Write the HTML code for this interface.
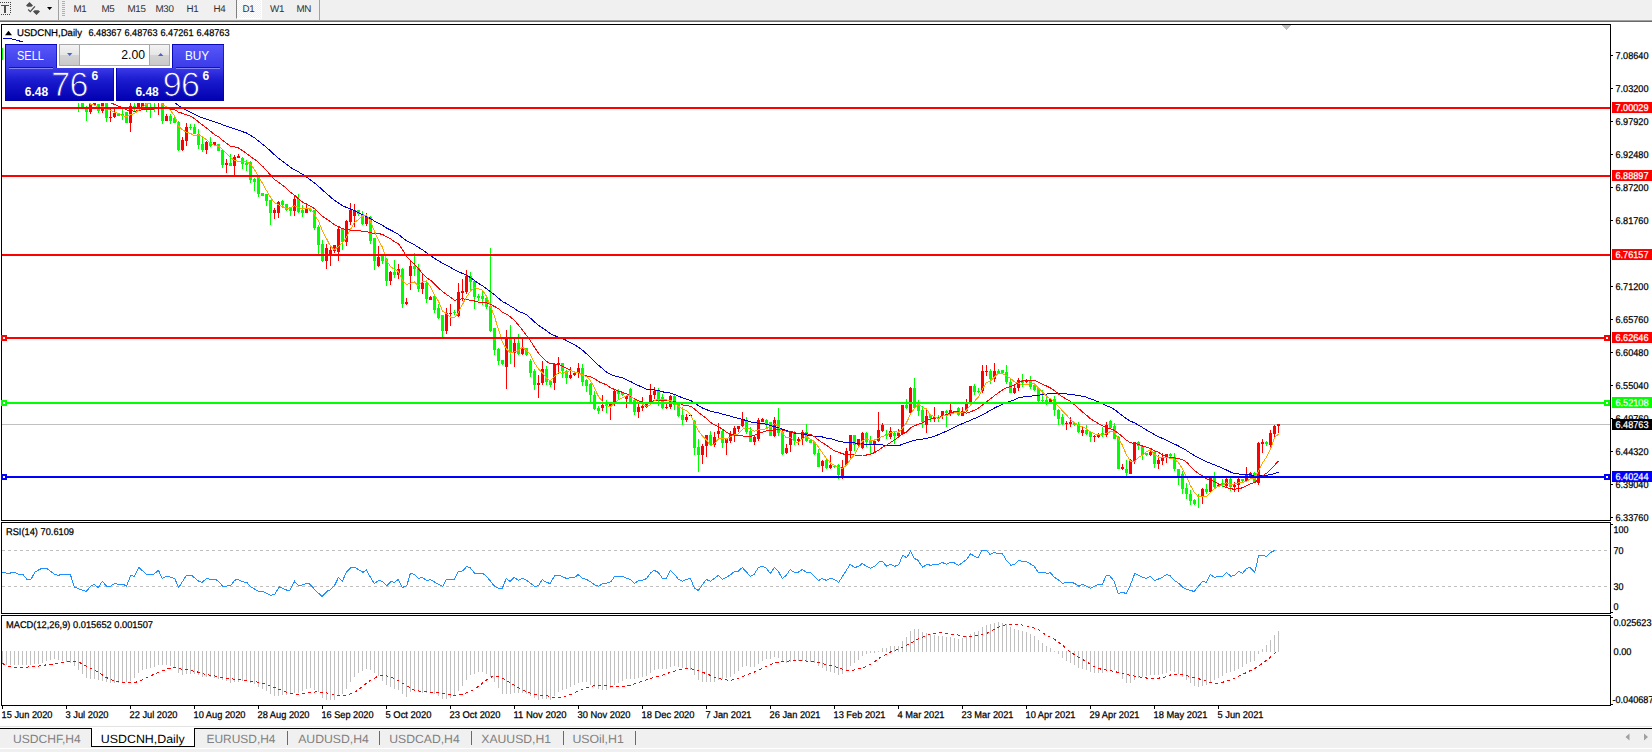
<!DOCTYPE html>
<html lang="en">
<head>
<meta charset="utf-8">
<title>USDCNH,Daily</title>
<style>
html,body{margin:0;padding:0;background:#fff;}
body{width:1652px;height:752px;overflow:hidden;position:relative;font-family:"Liberation Sans", Arial, sans-serif;}
.abs{position:absolute;}
#toolbar{left:0;top:0;width:1652px;height:20px;background:#f0f0f0;}
#edge1{left:0;top:20px;width:1652px;height:1px;background:#a0a0a0;}
#edge2{left:0;top:21px;width:1652px;height:1px;background:#696969;}
.tf{position:absolute;top:4.2px;font-size:9.8px;line-height:11px;color:#303030;white-space:nowrap;text-rendering:geometricPrecision;letter-spacing:-0.3px;}
.vsep{position:absolute;top:0;width:1px;height:20px;background:#a0a0a0;}
.vsepw{position:absolute;top:0;width:1px;height:20px;background:#fff;}
#d1btn{left:236px;top:0;width:24px;height:18px;border-left:1px solid #808080;
  background-color:#f0f0f0;
  background-image:linear-gradient(45deg,#fff 25%,transparent 25%,transparent 75%,#fff 75%),linear-gradient(45deg,#fff 25%,transparent 25%,transparent 75%,#fff 75%);
  background-size:2px 2px;background-position:0 0,1px 1px;border-bottom:1px solid #fff;border-right:1px solid #fff;}
svg text{font-family:"Liberation Sans", Arial, sans-serif;text-rendering:geometricPrecision;}
#chart{left:0;top:0;}
/* one click trading panel */
.blue{background:linear-gradient(#5555fa 0%,#2d2de0 40%,#0a0ab8 100%);}
#sell{left:5px;top:44px;width:52px;height:24px;background:linear-gradient(#5858fb,#3a3ae8);box-shadow:inset 1px 1px 0 rgba(0,0,175,.9),inset -1px 0 0 rgba(0,0,160,.6);}
#buy{left:172px;top:44px;width:52px;height:24px;background:linear-gradient(#5858fb,#3a3ae8);box-shadow:inset 1px 1px 0 rgba(0,0,175,.9),inset -1px 0 0 rgba(0,0,160,.6);}
#bid{left:5px;top:68px;width:109px;height:33px;background:linear-gradient(#3a3ae8 0%,#1c1cd0 35%,#0000b0 100%);box-shadow:inset 1px 0 0 rgba(0,0,175,.9),inset -1px -1px 0 rgba(0,0,160,.6);}
#ask{left:116px;top:68px;width:108px;height:33px;background:linear-gradient(#3a3ae8 0%,#1c1cd0 35%,#0000b0 100%);box-shadow:inset 1px 0 0 rgba(0,0,175,.9),inset -1px -1px 0 rgba(0,0,160,.6);}
.btxt{position:absolute;color:#fff;font-size:12px;line-height:12px;white-space:nowrap;transform-origin:0 0;}
.small{position:absolute;color:#fff;font-size:12px;font-weight:bold;line-height:12px;white-space:nowrap;}
.big{position:absolute;color:#fff;font-size:34px;line-height:34px;white-space:nowrap;letter-spacing:-0.6px;}
.uline{position:absolute;height:1px;background:#8484f4;}
.bigsvg{position:absolute;left:0;top:0;}
.dline{position:absolute;top:23px;height:1px;background:#1010c4;}
#lotbg{left:3px;top:42px;width:223px;height:61px;background:#fff;}
#lot{left:59px;top:44px;width:109px;height:20px;border:1px solid #a8a8a8;background:#fff;box-sizing:content-box;}
.spin{position:absolute;top:0;width:20px;height:20px;background:linear-gradient(#f3f3f3 0%,#e6e6e6 48%,#d3d3d3 52%,#c9c9c9 100%);box-sizing:border-box;}
#lotval{position:absolute;right:24px;top:4px;font-size:12.2px;line-height:13px;color:#000;}
/* tabs */
#tabs{left:0;top:726px;width:1652px;height:26px;}
#tabline0{left:0;top:726px;width:1652px;height:1px;background:#e3e3e3;}
#tabbar{left:0;top:729px;width:1652px;height:19px;background:#f0f0f0;}
#tabbot{left:0;top:749px;width:1652px;height:3px;background:#f0f0f0;}
#tabtopl{left:0;top:728px;width:92px;height:1px;background:#000;}
#tabtopr{left:194px;top:728px;width:1458px;height:1px;background:#000;}
#active{left:91px;top:728px;width:102px;height:18px;background:#fff;border:1px solid #000;border-top:none;}
#activetop{left:92px;top:727px;width:102px;height:1px;background:#fff;}
.tab{position:absolute;top:733px;font-size:11.6px;line-height:12px;color:#808080;white-space:nowrap;}
.tsep{position:absolute;top:731px;width:1px;height:14px;background:#6a6a6a;}
</style>
</head>
<body>
<div id="toolbar" class="abs">
  <svg class="abs" style="left:0;top:0" width="70" height="20" viewBox="0 0 70 20">
    <path d="M0 2h1v1h-1zM2 2h1v1h-1zM4 2h1v1h-1zM6 2h1v1h-1zM8 2h1v1h-1zM10 2h1v1h-1zM10 4h1v1h-1zM10 6h1v1h-1zM10 8h1v1h-1zM10 10h1v1h-1zM10 12h1v1h-1zM1 14h1v1h-1zM3 14h1v1h-1zM5 14h1v1h-1zM7 14h1v1h-1zM9 14h1v1h-1z" fill="#404040" shape-rendering="crispEdges"/>
    <path d="M1 5h8v1h-8z M4 5h2v8h-2z" fill="#4d4d4d" shape-rendering="crispEdges"/>
    <path d="M29.5 2l3.5 3.5l-1.6 1.3h-3.8l-1.6-1.3z M36.5 15l3.5-3.5l-1.6-1.3h-3.8l-1.6 1.3z" fill="#4d4d4d"/>
    <path d="M28.2 9.5l2.1 2.1l4.6-5.2" stroke="#4d4d4d" stroke-width="1.3" fill="none"/>
    <path d="M47 7h5.2l-2.6 3z" fill="#000"/>
    <path d="M62 1.5h3M62 3.5h3M62 5.5h3M62 7.5h3M62 9.5h3M62 11.5h3M62 13.5h3M62 15.5h3" stroke="#b0b0b0" stroke-width="1" shape-rendering="crispEdges"/>
  </svg>
  <div class="vsep" style="left:58px"></div>
  <div class="vsep" style="left:319px"></div>
  <div id="d1btn" class="abs"></div>
  <span class="tf" style="left:73.5px">M1</span>
  <span class="tf" style="left:101.5px">M5</span>
  <span class="tf" style="left:127.5px">M15</span>
  <span class="tf" style="left:155.5px">M30</span>
  <span class="tf" style="left:186.5px">H1</span>
  <span class="tf" style="left:213.5px">H4</span>
  <span class="tf" style="left:242.5px">D1</span>
  <span class="tf" style="left:270px">W1</span>
  <span class="tf" style="left:296.5px">MN</span>
</div>
<div id="edge1" class="abs"></div>
<div id="edge2" class="abs"></div>

<!-- tabs -->
<div id="tabline0" class="abs"></div>
<div id="tabbar" class="abs"></div>
<div id="tabbot" class="abs"></div>
<div id="tabtopl" class="abs"></div>
<div id="tabtopr" class="abs"></div>
<div id="active" class="abs"></div>
<div class="tsep" style="left:287px"></div>
<div class="tsep" style="left:379px"></div>
<div class="tsep" style="left:471px"></div>
<div class="tsep" style="left:563px"></div>
<div class="tsep" style="left:635px"></div>

<svg id="chart" class="abs" width="1652" height="752" viewBox="0 0 1652 752">
<g shape-rendering="crispEdges">
<path d="M1.5 520.5V24.5H1610.5V520.5Z" fill="none" stroke="#000" stroke-width="1"/>
<path d="M1.5 613.5V522.5H1610.5V613.5Z" fill="none" stroke="#000" stroke-width="1"/>
<path d="M1.5 705.5V615.5H1610.5V705.5Z" fill="none" stroke="#000" stroke-width="1"/>
</g>
<g shape-rendering="crispEdges">
<clipPath id="cm"><rect x="2" y="25" width="1608" height="495"/></clipPath>
<g clip-path="url(#cm)">
<rect x="2" y="424" width="1608" height="1" fill="#c0c0c0"/>
<path d="M2.5 48V60M6.5 50V56M10.5 50V57M14.5 54V62M18.5 57V65M22.5 60V68M26.5 61V73M34.5 66V72M38.5 69V81M42.5 76V82M50.5 74V86M54.5 81V88M58.5 82V92M62.5 87V95M66.5 88V98M74.5 89V98M78.5 96V112M82.5 103V107M86.5 106V121M98.5 104V113M106.5 103V122M118.5 114V116M122.5 109V120M126.5 112V123M134.5 103V112M146.5 103V112M150.5 96V118M154.5 95V112M162.5 103V124M170.5 114V124M174.5 116V123M178.5 121V151M190.5 124V130M194.5 124V134M198.5 129V149M202.5 137V152M210.5 137V147M218.5 144V151M222.5 150V168M230.5 154V166M242.5 157V169M246.5 160V171M250.5 161V183M254.5 178V191M258.5 175V197M262.5 193V196M266.5 194V206M270.5 200V225M282.5 200V208M286.5 204V211M290.5 207V216M298.5 194V213M302.5 205V217M310.5 209V212M314.5 210V230M318.5 225V254M322.5 240V262M342.5 228V250M358.5 210V216M362.5 211V225M370.5 216V244M374.5 238V270M382.5 256V264M386.5 258V286M394.5 260V278M402.5 268V308M414.5 253V276M418.5 264V292M426.5 282V303M434.5 294V313M438.5 304V319M442.5 315V337M454.5 310V315M470.5 272V292M474.5 281V309M478.5 294V301M482.5 291V305M486.5 298V309M490.5 248V332M494.5 328V355M498.5 348V365M502.5 360V365M510.5 325V364M518.5 334V355M526.5 348V356M530.5 359V377M534.5 369V390M546.5 366V385M550.5 380V387M562.5 363V378M566.5 370V384M582.5 364V386M586.5 379V392M590.5 383V402M594.5 391V410M598.5 406V414M606.5 400V413M618.5 389V399M622.5 393V396M630.5 388V402M634.5 399V415M658.5 388V406M662.5 394V409M674.5 395V410M678.5 404V417M682.5 407V425M694.5 420V455M698.5 439V472M710.5 431V446M722.5 430V448M746.5 417V434M750.5 427V442M766.5 419V428M770.5 422V436M778.5 408V436M782.5 431V455M794.5 431V445M806.5 424V442M810.5 439V443M814.5 441V455M818.5 449V467M826.5 459V469M834.5 465V468M838.5 464V479M854.5 435V451M866.5 432V447M870.5 436V454M886.5 430V439M894.5 431V444M906.5 399V409M914.5 378V409M918.5 400V416M922.5 406V428M930.5 415V422M938.5 415V422M946.5 410V427M958.5 407V416M974.5 384V395M978.5 388V393M990.5 369V384M998.5 369V374M1002.5 370V373M1006.5 365V384M1010.5 378V393M1022.5 374V387M1030.5 376V389M1034.5 384V391M1038.5 388V402M1042.5 390V402M1046.5 395V405M1054.5 396V416M1058.5 409V425M1062.5 414V425M1074.5 422V426M1078.5 422V433M1086.5 425V435M1090.5 432V442M1102.5 427V437M1110.5 420V429M1114.5 423V439M1118.5 436V469M1126.5 460V476M1138.5 441V450M1142.5 446V460M1146.5 453V456M1154.5 451V468M1170.5 453V457M1174.5 453V471M1178.5 469V485M1182.5 471V494M1186.5 483V499M1190.5 490V505M1194.5 499V505M1198.5 494V508M1206.5 484V494M1214.5 472V488M1222.5 479V487M1230.5 478V491M1242.5 479V482M1254.5 472V483M1266.5 441V446" stroke="#00ff00" stroke-width="1" fill="none"/>
<path d="M1 48h3v12h-3zM5 53h3v1h-3zM9 53h3v3h-3zM13 56h3v5h-3zM17 61h3v2h-3zM21 63h3v1h-3zM25 64h3v5h-3zM33 67h3v3h-3zM37 70h3v8h-3zM41 78h3v1h-3zM49 77h3v7h-3zM53 84h3v2h-3zM57 86h3v4h-3zM61 90h3v1h-3zM65 90h3v4h-3zM73 92h3v5h-3zM77 97h3v3h-3zM81 103h3v4h-3zM85 109h3v3h-3zM97 104h3v7h-3zM105 103h3v15h-3zM117 114h3v2h-3zM121 114h3v1h-3zM125 112h3v11h-3zM133 106h3v3h-3zM145 103h3v4h-3zM149 97h3v3h-3zM153 96h3v3h-3zM161 103h3v18h-3zM169 116h3v5h-3zM173 118h3v5h-3zM177 122h3v28h-3zM189 127h3v1h-3zM193 127h3v7h-3zM197 134h3v11h-3zM201 144h3v6h-3zM209 142h3v4h-3zM217 144h3v7h-3zM221 150h3v15h-3zM229 163h3v3h-3zM241 158h3v6h-3zM245 163h3v2h-3zM249 162h3v18h-3zM253 179h3v3h-3zM257 177h3v17h-3zM261 193h3v3h-3zM265 194h3v7h-3zM269 200h3v13h-3zM281 201h3v4h-3zM285 204h3v6h-3zM289 207h3v4h-3zM297 199h3v13h-3zM301 210h3v3h-3zM309 209h3v2h-3zM313 210h3v18h-3zM317 227h3v18h-3zM321 244h3v17h-3zM341 229h3v13h-3zM357 210h3v4h-3zM361 214h3v10h-3zM369 217h3v24h-3zM373 238h3v23h-3zM381 256h3v5h-3zM385 259h3v22h-3zM393 272h3v3h-3zM401 269h3v35h-3zM413 266h3v3h-3zM417 268h3v21h-3zM425 283h3v16h-3zM433 296h3v14h-3zM437 308h3v10h-3zM441 315h3v16h-3zM453 312h3v1h-3zM469 276h3v6h-3zM473 281h3v16h-3zM477 296h3v2h-3zM481 296h3v3h-3zM485 298h3v9h-3zM489 306h3v25h-3zM493 328h3v22h-3zM497 349h3v12h-3zM501 360h3v4h-3zM509 339h3v14h-3zM517 343h3v11h-3zM525 348h3v7h-3zM529 361h3v12h-3zM533 371h3v14h-3zM545 369h3v13h-3zM549 381h3v4h-3zM561 363h3v8h-3zM565 371h3v7h-3zM581 368h3v14h-3zM585 380h3v6h-3zM589 384h3v11h-3zM593 395h3v14h-3zM597 408h3v3h-3zM605 404h3v2h-3zM617 391h3v3h-3zM621 393h3v2h-3zM629 389h3v13h-3zM633 400h3v12h-3zM657 390h3v9h-3zM661 397h3v11h-3zM673 396h3v9h-3zM677 404h3v12h-3zM681 415h3v5h-3zM693 421h3v27h-3zM697 447h3v8h-3zM709 435h3v10h-3zM721 431h3v12h-3zM745 420h3v12h-3zM749 431h3v11h-3zM765 420h3v4h-3zM769 422h3v14h-3zM777 420h3v13h-3zM781 432h3v22h-3zM793 432h3v9h-3zM805 432h3v9h-3zM809 440h3v3h-3zM813 442h3v12h-3zM817 453h3v14h-3zM825 460h3v8h-3zM833 466h3v1h-3zM837 465h3v10h-3zM853 435h3v10h-3zM865 433h3v9h-3zM869 440h3v5h-3zM885 434h3v2h-3zM893 433h3v3h-3zM905 405h3v3h-3zM913 388h3v20h-3zM917 405h3v6h-3zM921 410h3v12h-3zM929 415h3v3h-3zM937 417h3v2h-3zM945 411h3v2h-3zM957 408h3v7h-3zM973 386h3v6h-3zM977 391h3v1h-3zM989 371h3v8h-3zM997 371h3v2h-3zM1001 370h3v3h-3zM1005 372h3v10h-3zM1009 382h3v11h-3zM1021 380h3v3h-3zM1029 380h3v7h-3zM1033 385h3v5h-3zM1037 388h3v13h-3zM1041 400h3v1h-3zM1045 400h3v2h-3zM1053 399h3v11h-3zM1057 410h3v9h-3zM1061 417h3v7h-3zM1073 423h3v2h-3zM1077 424h3v8h-3zM1085 430h3v4h-3zM1089 432h3v5h-3zM1101 433h3v2h-3zM1109 421h3v7h-3zM1113 426h3v13h-3zM1117 437h3v32h-3zM1125 469h3v4h-3zM1137 442h3v4h-3zM1141 446h3v9h-3zM1145 453h3v2h-3zM1153 452h3v12h-3zM1169 454h3v2h-3zM1173 457h3v12h-3zM1177 469h3v7h-3zM1181 474h3v15h-3zM1185 488h3v6h-3zM1189 494h3v7h-3zM1193 500h3v4h-3zM1197 496h3v1h-3zM1205 489h3v3h-3zM1213 478h3v9h-3zM1221 483h3v2h-3zM1229 479h3v8h-3zM1241 479h3v2h-3zM1253 473h3v10h-3zM1265 442h3v2h-3z" fill="#00ff00"/>
<path d="M30.5 63V71M46.5 76V81M70.5 89V97M90.5 104V114M94.5 103V105M102.5 103V113M110.5 109V122M114.5 109V118M130.5 103V132M138.5 98V109M142.5 98V109M158.5 96V115M166.5 114V121M182.5 137V151M186.5 123V146M206.5 141V154M214.5 142V146M226.5 159V173M234.5 155V176M238.5 154V158M274.5 208V219M278.5 201V218M294.5 196V216M306.5 203V213M326.5 244V269M330.5 245V266M334.5 245V253M338.5 227V261M346.5 220V246M350.5 203V225M354.5 204V227M366.5 213V226M378.5 246V267M390.5 271V285M398.5 264V279M406.5 298V305M410.5 260V290M422.5 274V294M430.5 296V300M446.5 308V334M450.5 304V326M458.5 283V317M462.5 279V301M466.5 270V294M506.5 330V389M514.5 339V367M522.5 339V355M538.5 375V398M542.5 361V385M554.5 363V390M558.5 357V374M570.5 367V379M574.5 372V376M578.5 363V378M602.5 395V411M610.5 403V420M614.5 389V406M626.5 395V408M638.5 404V418M642.5 397V411M646.5 404V408M650.5 384V405M654.5 387V399M666.5 404V409M670.5 395V409M686.5 414V422M702.5 444V464M706.5 435V457M714.5 432V447M718.5 423V438M726.5 439V455M730.5 431V443M734.5 426V442M738.5 426V432M742.5 412V427M754.5 436V445M758.5 418V441M762.5 418V422M774.5 417V437M786.5 444V454M790.5 432V452M798.5 437V445M802.5 430V445M822.5 460V472M830.5 455V469M842.5 460V479M846.5 448V466M850.5 435V459M858.5 439V447M862.5 432V449M874.5 440V452M878.5 412V442M882.5 423V432M890.5 427V439M898.5 429V437M902.5 405V434M910.5 387V414M926.5 410V433M934.5 407V422M942.5 411V419M950.5 404V416M954.5 411V413M962.5 407V416M966.5 399V412M970.5 386V403M982.5 365V393M986.5 365V376M994.5 363V382M1014.5 384V394M1018.5 378V391M1026.5 379V383M1050.5 399V402M1066.5 421V430M1070.5 417V427M1082.5 426V436M1094.5 435V442M1098.5 433V438M1106.5 422V437M1122.5 464V470M1130.5 459V474M1134.5 442V464M1150.5 449V456M1158.5 455V469M1162.5 453V465M1166.5 454V463M1202.5 488V504M1210.5 478V493M1218.5 484V487M1226.5 478V488M1234.5 482V492M1238.5 478V492M1246.5 467V481M1250.5 472V478M1258.5 442V485M1262.5 439V453M1270.5 430V448M1274.5 425V438M1278.5 424V433" stroke="#ff0000" stroke-width="1" fill="none"/>
<path d="M29 67h3v2h-3zM45 77h3v2h-3zM69 92h3v2h-3zM89 104h3v8h-3zM93 103h3v2h-3zM101 103h3v8h-3zM109 117h3v1h-3zM113 113h3v4h-3zM129 106h3v17h-3zM137 99h3v10h-3zM141 99h3v8h-3zM157 97h3v3h-3zM165 116h3v5h-3zM181 140h3v10h-3zM185 127h3v14h-3zM205 142h3v8h-3zM213 142h3v3h-3zM225 163h3v2h-3zM233 157h3v9h-3zM237 156h3v2h-3zM273 210h3v3h-3zM277 202h3v11h-3zM293 199h3v12h-3zM305 209h3v4h-3zM325 248h3v13h-3zM329 250h3v5h-3zM333 245h3v6h-3zM337 229h3v23h-3zM345 221h3v21h-3zM349 210h3v12h-3zM353 210h3v6h-3zM365 217h3v7h-3zM377 257h3v9h-3zM389 272h3v9h-3zM397 269h3v6h-3zM405 302h3v2h-3zM409 266h3v10h-3zM421 283h3v6h-3zM429 297h3v3h-3zM445 313h3v18h-3zM449 313h3v1h-3zM457 292h3v24h-3zM461 291h3v2h-3zM465 276h3v16h-3zM505 338h3v29h-3zM513 343h3v10h-3zM521 348h3v6h-3zM537 383h3v2h-3zM541 369h3v14h-3zM553 364h3v19h-3zM557 363h3v2h-3zM569 375h3v3h-3zM573 373h3v2h-3zM577 368h3v5h-3zM601 405h3v3h-3zM609 404h3v3h-3zM613 391h3v12h-3zM625 396h3v3h-3zM637 407h3v5h-3zM641 406h3v2h-3zM645 404h3v3h-3zM649 395h3v9h-3zM653 391h3v4h-3zM665 407h3v1h-3zM669 396h3v11h-3zM685 417h3v3h-3zM701 446h3v9h-3zM705 435h3v11h-3zM713 437h3v8h-3zM717 431h3v3h-3zM725 439h3v4h-3zM729 434h3v7h-3zM733 428h3v7h-3zM737 426h3v3h-3zM741 419h3v7h-3zM753 437h3v5h-3zM757 420h3v19h-3zM761 419h3v3h-3zM773 420h3v16h-3zM785 448h3v5h-3zM789 432h3v13h-3zM797 439h3v2h-3zM801 432h3v7h-3zM821 461h3v5h-3zM829 465h3v3h-3zM841 467h3v9h-3zM845 451h3v14h-3zM849 435h3v16h-3zM857 439h3v6h-3zM861 433h3v15h-3zM873 441h3v4h-3zM877 430h3v11h-3zM881 425h3v6h-3zM889 431h3v6h-3zM897 433h3v3h-3zM901 405h3v29h-3zM909 388h3v25h-3zM925 416h3v9h-3zM933 417h3v2h-3zM941 411h3v5h-3zM949 410h3v4h-3zM953 412h3v1h-3zM961 411h3v5h-3zM965 403h3v8h-3zM969 386h3v16h-3zM981 371h3v20h-3zM985 371h3v1h-3zM993 371h3v8h-3zM1013 388h3v5h-3zM1017 380h3v8h-3zM1025 380h3v2h-3zM1049 399h3v3h-3zM1065 423h3v1h-3zM1069 422h3v2h-3zM1081 430h3v3h-3zM1093 436h3v1h-3zM1097 435h3v2h-3zM1105 425h3v10h-3zM1121 467h3v2h-3zM1129 460h3v14h-3zM1133 442h3v20h-3zM1149 452h3v3h-3zM1157 460h3v4h-3zM1161 457h3v4h-3zM1165 454h3v4h-3zM1201 489h3v7h-3zM1209 478h3v14h-3zM1217 485h3v2h-3zM1225 479h3v7h-3zM1233 485h3v2h-3zM1237 479h3v6h-3zM1245 475h3v6h-3zM1249 473h3v3h-3zM1257 443h3v40h-3zM1261 442h3v2h-3zM1269 433h3v12h-3zM1273 426h3v8h-3zM1277 424h3v2h-3z" fill="#ff0000"/>
<path d="M689 415h3v1h-3z" fill="#000"/>
<polyline points="2.5,38.0 6.5,38.1 10.5,38.6 14.5,39.7 18.5,40.8 22.5,41.7" fill="none" stroke="#0000cd" stroke-width="1"/>
<polyline points="154.5,93.3 158.5,95.0 162.5,96.6 166.5,98.2 170.5,99.9 174.5,102.1 178.5,105.6 182.5,108.2 186.5,110.2 190.5,112.2 194.5,114.2 198.5,116.2 202.5,117.9 206.5,119.2 210.5,120.5 214.5,121.8 218.5,123.1 222.5,124.7 226.5,126.1 230.5,127.5 234.5,128.9 238.5,130.2 242.5,131.7 246.5,133.0 250.5,135.4 254.5,137.8 258.5,141.0 262.5,144.2 266.5,147.3 270.5,151.1 274.5,154.8 278.5,158.4 282.5,161.2 286.5,164.3 290.5,167.3 294.5,169.9 298.5,171.9 302.5,174.3 306.5,177.1 310.5,179.9 314.5,183.0 318.5,186.3 322.5,190.0 326.5,193.6 330.5,197.0 334.5,200.4 338.5,203.0 342.5,205.6 346.5,207.5 350.5,209.0 354.5,210.8 358.5,212.7 362.5,214.7 366.5,216.4 370.5,218.5 374.5,221.1 378.5,223.2 382.5,225.4 386.5,228.1 390.5,230.0 394.5,232.1 398.5,234.4 402.5,237.7 406.5,240.7 410.5,242.5 414.5,244.9 418.5,247.4 422.5,249.8 426.5,252.8 430.5,255.6 434.5,258.3 438.5,260.8 442.5,263.1 446.5,265.3 450.5,267.4 454.5,269.7 458.5,271.8 462.5,273.4 466.5,275.2 470.5,277.6 474.5,280.5 478.5,283.3 482.5,285.8 486.5,288.8 490.5,291.8 494.5,294.7 498.5,298.2 502.5,301.6 506.5,303.5 510.5,306.2 514.5,308.5 518.5,311.3 522.5,312.8 526.5,314.6 530.5,318.2 534.5,322.0 538.5,325.2 542.5,328.0 546.5,330.8 550.5,333.8 554.5,335.6 558.5,337.1 562.5,338.4 566.5,340.6 570.5,342.7 574.5,344.6 578.5,347.2 582.5,350.2 586.5,353.8 590.5,357.6 594.5,361.4 598.5,365.2 602.5,368.7 606.5,372.0 610.5,374.4 614.5,375.8 618.5,376.9 622.5,377.9 626.5,379.8 630.5,381.5 634.5,383.8 638.5,385.5 642.5,387.4 646.5,389.1 650.5,389.8 654.5,390.0 658.5,390.6 662.5,391.8 666.5,392.7 670.5,393.1 674.5,394.4 678.5,396.2 682.5,397.8 686.5,399.1 690.5,400.4 694.5,402.9 698.5,405.8 702.5,408.0 706.5,409.6 710.5,411.3 714.5,412.2 718.5,412.9 722.5,414.1 726.5,415.2 730.5,416.2 734.5,417.4 738.5,418.5 742.5,419.4 746.5,420.6 750.5,421.9 754.5,422.7 758.5,423.2 762.5,423.6 766.5,424.2 770.5,425.6 774.5,426.6 778.5,427.7 782.5,429.2 786.5,430.6 790.5,431.8 794.5,433.0 798.5,433.7 802.5,434.2 806.5,434.9 810.5,435.9 814.5,436.1 818.5,436.5 822.5,437.0 826.5,438.1 830.5,438.7 834.5,439.7 838.5,441.2 842.5,442.0 846.5,442.4 850.5,442.5 854.5,443.0 858.5,443.5 862.5,443.9 866.5,444.3 870.5,444.4 874.5,444.5 878.5,444.9 882.5,445.0 886.5,445.5 890.5,445.3 894.5,445.8 898.5,445.8 902.5,444.2 906.5,442.9 910.5,441.4 914.5,440.3 918.5,439.4 922.5,439.1 926.5,438.3 930.5,437.4 934.5,436.2 938.5,434.6 942.5,432.9 946.5,431.1 950.5,429.3 954.5,427.4 958.5,425.4 962.5,423.5 966.5,421.9 970.5,420.3 974.5,418.5 978.5,416.9 982.5,414.9 986.5,412.5 990.5,410.3 994.5,408.0 998.5,406.1 1002.5,404.4 1006.5,402.6 1010.5,401.3 1014.5,399.7 1018.5,397.9 1022.5,397.2 1026.5,396.2 1030.5,396.2 1034.5,395.6 1038.5,395.3 1042.5,394.6 1046.5,394.1 1050.5,393.5 1054.5,393.3 1058.5,393.3 1062.5,393.7 1066.5,394.0 1070.5,394.4 1074.5,394.9 1078.5,395.5 1082.5,396.2 1086.5,397.2 1090.5,398.9 1094.5,400.3 1098.5,401.8 1102.5,403.9 1106.5,405.7 1110.5,407.3 1114.5,409.5 1118.5,412.7 1122.5,415.8 1126.5,418.9 1130.5,421.1 1134.5,422.9 1138.5,425.1 1142.5,427.5 1146.5,430.0 1150.5,432.2 1154.5,434.7 1158.5,436.6 1162.5,438.5 1166.5,440.2 1170.5,442.1 1174.5,444.1 1178.5,446.0 1182.5,448.2 1186.5,450.5 1190.5,453.1 1194.5,455.7 1198.5,457.9 1202.5,459.9 1206.5,461.8 1210.5,463.2 1214.5,464.9 1218.5,466.5 1222.5,468.2 1226.5,470.0 1230.5,472.0 1234.5,473.5 1238.5,473.9 1242.5,474.4 1246.5,474.4 1250.5,474.9 1254.5,476.2 1258.5,476.1 1262.5,475.7 1266.5,475.3 1270.5,474.7 1274.5,473.4 1278.5,472.2" fill="none" stroke="#0000cd" stroke-width="1"/>
<polyline points="2.5,52.0 6.5,52.4 10.5,52.9 14.5,54.0 18.5,55.2 22.5,56.4 26.5,57.8 30.5,59.0 34.5,60.3 38.5,62.1 42.5,63.9 46.5,65.4 50.5,67.3 54.5,69.2 58.5,71.4 62.5,74.0 66.5,76.8 70.5,79.0 74.5,81.4 78.5,83.9 82.5,86.6 86.5,89.8 90.5,92.2 94.5,94.0 98.5,96.3 102.5,98.1 106.5,100.5 110.5,102.7 114.5,104.4 118.5,106.2 122.5,107.7 126.5,109.9 130.5,110.5 134.5,111.2 138.5,110.6 142.5,109.7 146.5,109.9 150.5,109.6 154.5,108.8 158.5,108.4 162.5,108.6 166.5,108.5 170.5,109.1 174.5,109.6 178.5,112.1 182.5,113.3 186.5,114.8 190.5,116.1 194.5,118.6 198.5,121.9 202.5,125.0 206.5,128.0 210.5,131.3 214.5,134.6 218.5,136.7 222.5,140.2 226.5,143.3 230.5,146.4 234.5,146.9 238.5,148.0 242.5,150.7 246.5,153.4 250.5,156.6 254.5,159.3 258.5,162.4 262.5,166.2 266.5,170.2 270.5,175.3 274.5,179.5 278.5,182.2 282.5,185.2 286.5,188.4 290.5,192.2 294.5,195.3 298.5,198.7 302.5,202.1 306.5,204.2 310.5,206.2 314.5,208.7 318.5,212.2 322.5,216.4 326.5,218.9 330.5,221.7 334.5,224.8 338.5,226.5 342.5,228.7 346.5,229.4 350.5,230.2 354.5,230.1 358.5,230.2 362.5,231.3 366.5,231.7 370.5,232.6 374.5,233.8 378.5,233.5 382.5,234.5 386.5,236.7 390.5,238.6 394.5,241.9 398.5,243.9 402.5,249.7 406.5,256.3 410.5,260.3 414.5,264.2 418.5,268.8 422.5,273.5 426.5,277.6 430.5,280.2 434.5,283.9 438.5,288.0 442.5,291.6 446.5,294.5 450.5,297.2 454.5,300.4 458.5,299.5 462.5,298.8 466.5,299.5 470.5,300.4 474.5,301.0 478.5,302.1 482.5,302.1 486.5,302.8 490.5,304.3 494.5,306.5 498.5,308.6 502.5,312.3 506.5,314.1 510.5,317.0 514.5,320.6 518.5,325.1 522.5,330.2 526.5,335.5 530.5,341.0 534.5,347.2 538.5,353.2 542.5,357.6 546.5,361.3 550.5,363.8 554.5,364.0 558.5,364.0 562.5,366.4 566.5,368.1 570.5,370.4 574.5,371.7 578.5,373.2 582.5,375.0 586.5,376.0 590.5,376.7 594.5,378.6 598.5,381.6 602.5,383.3 606.5,384.7 610.5,387.6 614.5,389.5 618.5,391.1 622.5,392.3 626.5,393.8 630.5,395.9 634.5,399.0 638.5,400.8 642.5,402.3 646.5,402.9 650.5,401.9 654.5,400.4 658.5,400.0 662.5,400.2 666.5,400.4 670.5,400.8 674.5,401.6 678.5,403.1 682.5,404.8 686.5,405.9 690.5,406.1 694.5,409.0 698.5,412.5 702.5,415.5 706.5,418.4 710.5,422.3 714.5,424.9 718.5,426.6 722.5,429.2 726.5,432.2 730.5,434.3 734.5,435.1 738.5,435.6 742.5,435.8 746.5,436.9 750.5,436.5 754.5,435.3 758.5,433.4 762.5,432.2 766.5,430.7 770.5,430.6 774.5,429.8 778.5,429.1 782.5,430.2 786.5,431.2 790.5,431.5 794.5,432.5 798.5,433.9 802.5,434.0 806.5,433.9 810.5,434.3 814.5,436.7 818.5,440.1 822.5,442.8 826.5,445.1 830.5,448.3 834.5,450.7 838.5,452.3 842.5,453.7 846.5,455.0 850.5,454.7 854.5,455.0 858.5,455.6 862.5,455.0 866.5,455.0 870.5,454.4 874.5,452.5 878.5,450.3 882.5,447.2 886.5,445.2 890.5,442.6 894.5,439.7 898.5,437.3 902.5,434.0 906.5,432.1 910.5,428.0 914.5,425.8 918.5,424.2 922.5,422.8 926.5,420.7 930.5,419.1 934.5,418.1 938.5,417.7 942.5,415.9 946.5,414.6 950.5,412.8 954.5,411.3 958.5,412.0 962.5,412.1 966.5,413.2 970.5,411.7 974.5,410.3 978.5,408.1 982.5,404.9 986.5,401.6 990.5,398.9 994.5,395.5 998.5,392.8 1002.5,389.9 1006.5,387.9 1010.5,386.6 1014.5,384.7 1018.5,382.5 1022.5,381.0 1026.5,380.6 1030.5,380.2 1034.5,380.1 1038.5,382.2 1042.5,384.4 1046.5,386.0 1050.5,388.0 1054.5,390.7 1058.5,393.9 1062.5,396.9 1066.5,399.1 1070.5,401.5 1074.5,404.8 1078.5,408.3 1082.5,412.0 1086.5,415.3 1090.5,418.7 1094.5,421.2 1098.5,423.5 1102.5,425.8 1106.5,427.7 1110.5,428.9 1114.5,430.4 1118.5,433.5 1122.5,436.7 1126.5,440.3 1130.5,442.7 1134.5,443.4 1138.5,444.5 1142.5,446.0 1146.5,447.3 1150.5,448.5 1154.5,450.6 1158.5,452.4 1162.5,454.7 1166.5,456.6 1170.5,457.8 1174.5,457.9 1178.5,458.5 1182.5,459.7 1186.5,462.1 1190.5,466.3 1194.5,470.4 1198.5,473.5 1202.5,475.9 1206.5,478.8 1210.5,479.8 1214.5,481.7 1218.5,483.7 1222.5,485.8 1226.5,487.5 1230.5,488.7 1234.5,489.3 1238.5,488.7 1242.5,487.8 1246.5,485.9 1250.5,483.7 1254.5,482.7 1258.5,479.4 1262.5,475.8 1266.5,473.3 1270.5,469.5 1274.5,465.3 1278.5,461.0" fill="none" stroke="#ff0000" stroke-width="1"/>
<polyline points="2.5,63.0 6.5,63.3 10.5,57.1 14.5,57.8 18.5,58.7 22.5,59.6 26.5,62.6 30.5,65.0 34.5,66.9 38.5,69.9 42.5,72.9 46.5,74.4 50.5,77.8 54.5,80.9 58.5,83.2 62.5,85.6 66.5,89.0 70.5,90.5 74.5,92.7 78.5,94.7 82.5,97.9 86.5,101.5 90.5,104.0 94.5,105.3 98.5,107.4 102.5,106.7 106.5,107.9 110.5,110.4 114.5,112.3 118.5,113.3 122.5,115.7 126.5,116.7 130.5,114.5 134.5,113.6 138.5,110.3 142.5,107.1 146.5,103.9 150.5,102.7 154.5,100.8 158.5,100.4 162.5,104.8 166.5,106.6 170.5,110.7 174.5,115.5 178.5,126.1 182.5,129.8 186.5,132.1 190.5,133.5 194.5,135.7 198.5,134.8 202.5,136.7 206.5,139.7 210.5,143.4 214.5,145.1 218.5,146.3 222.5,149.3 226.5,153.6 230.5,157.5 234.5,160.4 238.5,161.4 242.5,161.3 246.5,161.7 250.5,164.4 254.5,169.5 258.5,177.0 262.5,183.3 266.5,190.5 270.5,197.3 274.5,202.9 278.5,204.6 282.5,206.6 286.5,208.4 290.5,207.9 294.5,205.6 298.5,207.5 302.5,208.9 306.5,208.7 310.5,208.7 314.5,214.5 318.5,221.1 322.5,230.8 326.5,238.6 330.5,246.3 334.5,249.7 338.5,246.5 342.5,242.7 346.5,237.4 350.5,229.4 354.5,222.4 358.5,219.5 362.5,215.9 366.5,215.0 370.5,221.2 374.5,231.4 378.5,240.0 382.5,247.5 386.5,260.3 390.5,266.5 394.5,269.3 398.5,271.6 402.5,280.2 406.5,284.4 410.5,283.2 414.5,281.9 418.5,285.8 422.5,281.6 426.5,280.9 430.5,287.1 434.5,295.3 438.5,301.2 442.5,310.9 446.5,313.7 450.5,317.0 454.5,317.7 458.5,312.4 462.5,304.4 466.5,297.1 470.5,290.9 474.5,287.6 478.5,288.7 482.5,290.1 486.5,296.3 490.5,306.1 494.5,316.7 498.5,329.4 502.5,342.5 506.5,348.8 510.5,353.2 514.5,351.8 518.5,350.4 522.5,347.2 526.5,350.7 530.5,354.7 534.5,363.1 538.5,368.9 542.5,373.0 546.5,378.3 550.5,380.7 554.5,376.5 558.5,372.7 562.5,373.2 566.5,372.4 570.5,370.3 574.5,372.0 578.5,372.9 582.5,375.0 586.5,376.6 590.5,380.8 594.5,388.0 598.5,396.6 602.5,401.3 606.5,405.3 610.5,407.0 614.5,403.3 618.5,399.8 622.5,397.8 626.5,395.8 630.5,395.3 634.5,399.5 638.5,402.1 642.5,404.4 646.5,406.1 650.5,404.7 654.5,400.5 658.5,399.1 662.5,399.4 666.5,400.0 670.5,400.3 674.5,403.1 678.5,406.4 682.5,408.8 686.5,410.7 690.5,414.6 694.5,423.1 698.5,430.8 702.5,436.1 706.5,439.8 710.5,445.7 714.5,443.6 718.5,438.9 722.5,438.2 726.5,439.0 730.5,436.7 734.5,434.9 738.5,433.9 742.5,429.3 746.5,427.7 750.5,429.3 754.5,431.2 758.5,429.9 762.5,429.8 766.5,428.3 770.5,427.1 774.5,423.7 778.5,426.3 782.5,433.3 786.5,438.0 790.5,437.3 794.5,441.4 798.5,442.7 802.5,438.4 806.5,437.0 810.5,439.1 814.5,441.7 818.5,447.2 822.5,453.0 826.5,458.4 830.5,462.9 834.5,465.5 838.5,467.3 842.5,468.5 846.5,465.2 850.5,459.2 854.5,454.7 858.5,447.5 862.5,440.7 866.5,438.8 870.5,440.9 874.5,440.0 878.5,438.2 882.5,436.5 886.5,435.4 890.5,432.5 894.5,431.6 898.5,432.2 902.5,428.3 906.5,422.7 910.5,414.0 914.5,408.4 918.5,404.0 922.5,407.5 926.5,409.0 930.5,415.1 934.5,416.8 938.5,418.3 942.5,416.1 946.5,415.5 950.5,413.9 954.5,412.9 958.5,412.2 962.5,412.1 966.5,410.1 970.5,405.2 974.5,401.3 978.5,396.8 982.5,388.8 986.5,382.4 990.5,381.1 994.5,376.9 998.5,373.1 1002.5,373.6 1006.5,375.8 1010.5,378.4 1014.5,381.8 1018.5,383.1 1022.5,385.1 1026.5,384.6 1030.5,383.5 1034.5,383.9 1038.5,388.2 1042.5,391.8 1046.5,396.3 1050.5,398.8 1054.5,402.8 1058.5,406.3 1062.5,411.0 1066.5,415.0 1070.5,419.6 1074.5,422.7 1078.5,425.5 1082.5,426.7 1086.5,428.9 1090.5,431.9 1094.5,433.9 1098.5,434.4 1102.5,435.2 1106.5,433.4 1110.5,431.5 1114.5,432.1 1118.5,439.0 1122.5,445.4 1126.5,455.0 1130.5,461.2 1134.5,462.0 1138.5,457.5 1142.5,455.1 1146.5,451.6 1150.5,450.0 1154.5,454.4 1158.5,457.1 1162.5,457.6 1166.5,457.5 1170.5,458.4 1174.5,459.4 1178.5,462.6 1182.5,468.9 1186.5,476.8 1190.5,485.7 1194.5,492.6 1198.5,496.9 1202.5,496.9 1206.5,496.6 1210.5,492.2 1214.5,488.7 1218.5,486.2 1222.5,485.4 1226.5,482.7 1230.5,484.4 1234.5,484.0 1238.5,482.9 1242.5,482.3 1246.5,481.3 1250.5,478.6 1254.5,478.2 1258.5,470.9 1262.5,463.0 1266.5,456.9 1270.5,449.0 1274.5,437.7 1278.5,433.9" fill="none" stroke="#ffa500" stroke-width="1"/>
<rect x="2" y="107" width="1608" height="2" fill="#ff0000"/>
<rect x="2" y="175" width="1608" height="2" fill="#ff0000"/>
<rect x="2" y="254" width="1608" height="2" fill="#ff0000"/>
<rect x="2" y="337" width="1608" height="2" fill="#ff0000"/>
<rect x="2" y="402" width="1608" height="2" fill="#00ff00"/>
<rect x="2" y="476" width="1608" height="2" fill="#0000ff"/>
</g>
<rect x="1" y="335" width="6" height="6" fill="#ff0000"/>
<rect x="3" y="337" width="2" height="2" fill="#fff"/>
<rect x="1604" y="335" width="6" height="6" fill="#ff0000"/>
<rect x="1606" y="337" width="2" height="2" fill="#fff"/>
<rect x="1" y="400" width="6" height="6" fill="#00ff00"/>
<rect x="3" y="402" width="2" height="2" fill="#fff"/>
<rect x="1604" y="400" width="6" height="6" fill="#00ff00"/>
<rect x="1606" y="402" width="2" height="2" fill="#fff"/>
<rect x="1" y="474" width="6" height="6" fill="#0000ff"/>
<rect x="3" y="476" width="2" height="2" fill="#fff"/>
<rect x="1604" y="474" width="6" height="6" fill="#0000ff"/>
<rect x="1606" y="476" width="2" height="2" fill="#fff"/>
<path d="M1281 25h10l-5 5z" fill="#c0c0c0"/>
</g>
<g shape-rendering="crispEdges">
<rect x="1611" y="55" width="2" height="1" fill="#000"/>
<rect x="1611" y="88" width="2" height="1" fill="#000"/>
<rect x="1611" y="121" width="2" height="1" fill="#000"/>
<rect x="1611" y="154" width="2" height="1" fill="#000"/>
<rect x="1611" y="187" width="2" height="1" fill="#000"/>
<rect x="1611" y="220" width="2" height="1" fill="#000"/>
<rect x="1611" y="286" width="2" height="1" fill="#000"/>
<rect x="1611" y="319" width="2" height="1" fill="#000"/>
<rect x="1611" y="352" width="2" height="1" fill="#000"/>
<rect x="1611" y="385" width="2" height="1" fill="#000"/>
<rect x="1611" y="418" width="2" height="1" fill="#000"/>
<rect x="1611" y="451" width="2" height="1" fill="#000"/>
<rect x="1611" y="484" width="2" height="1" fill="#000"/>
<rect x="1611" y="517" width="2" height="1" fill="#000"/>
</g>
<text x="1615.5" y="59" font-size="9.8" fill="#000" stroke="#000" stroke-width="0.25" textLength="33" lengthAdjust="spacingAndGlyphs">7.08640</text>
<text x="1615.5" y="92" font-size="9.8" fill="#000" stroke="#000" stroke-width="0.25" textLength="33" lengthAdjust="spacingAndGlyphs">7.03200</text>
<text x="1615.5" y="125" font-size="9.8" fill="#000" stroke="#000" stroke-width="0.25" textLength="33" lengthAdjust="spacingAndGlyphs">6.97920</text>
<text x="1615.5" y="158" font-size="9.8" fill="#000" stroke="#000" stroke-width="0.25" textLength="33" lengthAdjust="spacingAndGlyphs">6.92480</text>
<text x="1615.5" y="191" font-size="9.8" fill="#000" stroke="#000" stroke-width="0.25" textLength="33" lengthAdjust="spacingAndGlyphs">6.87200</text>
<text x="1615.5" y="224" font-size="9.8" fill="#000" stroke="#000" stroke-width="0.25" textLength="33" lengthAdjust="spacingAndGlyphs">6.81760</text>
<text x="1615.5" y="290" font-size="9.8" fill="#000" stroke="#000" stroke-width="0.25" textLength="33" lengthAdjust="spacingAndGlyphs">6.71200</text>
<text x="1615.5" y="323" font-size="9.8" fill="#000" stroke="#000" stroke-width="0.25" textLength="33" lengthAdjust="spacingAndGlyphs">6.65760</text>
<text x="1615.5" y="356" font-size="9.8" fill="#000" stroke="#000" stroke-width="0.25" textLength="33" lengthAdjust="spacingAndGlyphs">6.60480</text>
<text x="1615.5" y="389" font-size="9.8" fill="#000" stroke="#000" stroke-width="0.25" textLength="33" lengthAdjust="spacingAndGlyphs">6.55040</text>
<text x="1615.5" y="422" font-size="9.8" fill="#000" stroke="#000" stroke-width="0.25" textLength="33" lengthAdjust="spacingAndGlyphs">6.49760</text>
<text x="1615.5" y="455" font-size="9.8" fill="#000" stroke="#000" stroke-width="0.25" textLength="33" lengthAdjust="spacingAndGlyphs">6.44320</text>
<text x="1615.5" y="488" font-size="9.8" fill="#000" stroke="#000" stroke-width="0.25" textLength="33" lengthAdjust="spacingAndGlyphs">6.39040</text>
<text x="1615.5" y="521" font-size="9.8" fill="#000" stroke="#000" stroke-width="0.25" textLength="33" lengthAdjust="spacingAndGlyphs">6.33760</text>
<rect x="1612" y="102" width="40" height="11" fill="#ff0000" shape-rendering="crispEdges"/>
<text x="1615.5" y="111" font-size="9.8" fill="#fff" stroke="#fff" stroke-width="0.25" textLength="33" lengthAdjust="spacingAndGlyphs">7.00029</text>
<rect x="1612" y="170" width="40" height="11" fill="#ff0000" shape-rendering="crispEdges"/>
<text x="1615.5" y="179" font-size="9.8" fill="#fff" stroke="#fff" stroke-width="0.25" textLength="33" lengthAdjust="spacingAndGlyphs">6.88897</text>
<rect x="1612" y="249" width="40" height="11" fill="#ff0000" shape-rendering="crispEdges"/>
<text x="1615.5" y="258" font-size="9.8" fill="#fff" stroke="#fff" stroke-width="0.25" textLength="33" lengthAdjust="spacingAndGlyphs">6.76157</text>
<rect x="1612" y="332" width="40" height="11" fill="#ff0000" shape-rendering="crispEdges"/>
<text x="1615.5" y="341" font-size="9.8" fill="#fff" stroke="#fff" stroke-width="0.25" textLength="33" lengthAdjust="spacingAndGlyphs">6.62646</text>
<rect x="1612" y="397" width="40" height="11" fill="#00ff00" shape-rendering="crispEdges"/>
<text x="1615.5" y="406" font-size="9.8" fill="#fff" stroke="#fff" stroke-width="0.25" textLength="33" lengthAdjust="spacingAndGlyphs">6.52108</text>
<rect x="1612" y="419" width="40" height="11" fill="#000000" shape-rendering="crispEdges"/>
<text x="1615.5" y="428" font-size="9.8" fill="#fff" stroke="#fff" stroke-width="0.25" textLength="33" lengthAdjust="spacingAndGlyphs">6.48763</text>
<rect x="1612" y="471" width="40" height="11" fill="#0000ff" shape-rendering="crispEdges"/>
<text x="1615.5" y="480" font-size="9.8" fill="#fff" stroke="#fff" stroke-width="0.25" textLength="33" lengthAdjust="spacingAndGlyphs">6.40244</text>
<path d="M5 35.2l3.5-4.4l3.5 4.4z" fill="#000"/>
<text x="17" y="36" font-size="9.8" fill="#000" stroke="#000" stroke-width="0.25" textLength="65" lengthAdjust="spacingAndGlyphs">USDCNH,Daily</text>
<text x="88.5" y="36" font-size="9.8" fill="#000" stroke="#000" stroke-width="0.25" textLength="33" lengthAdjust="spacingAndGlyphs">6.48367</text>
<text x="124.5" y="36" font-size="9.8" fill="#000" stroke="#000" stroke-width="0.25" textLength="33" lengthAdjust="spacingAndGlyphs">6.48763</text>
<text x="160.5" y="36" font-size="9.8" fill="#000" stroke="#000" stroke-width="0.25" textLength="33" lengthAdjust="spacingAndGlyphs">6.47261</text>
<text x="196.5" y="36" font-size="9.8" fill="#000" stroke="#000" stroke-width="0.25" textLength="33" lengthAdjust="spacingAndGlyphs">6.48763</text>
<text x="6" y="535" font-size="9.8" fill="#000" stroke="#000" stroke-width="0.25" textLength="68" lengthAdjust="spacingAndGlyphs">RSI(14) 70.6109</text>
<g shape-rendering="crispEdges">
<path d="M2 550.5H1610M2 586.5H1610" stroke="#c0c0c0" stroke-width="1" stroke-dasharray="3 3" fill="none"/>
<rect x="1611" y="524" width="2" height="1" fill="#000"/>
<rect x="1611" y="612" width="2" height="1" fill="#000"/>
</g>
<polyline points="2.0,572.5 9.0,573.3 14.0,572.3 19.0,574.3 23.0,574.5 27.0,579.5 31.0,579.3 35.0,571.9 41.9,568.3 46.9,568.5 53.9,573.9 57.9,575.5 61.9,574.3 70.3,574.3 74.3,586.9 79.9,589.3 86.3,591.5 90.9,585.9 94.3,584.5 98.3,587.5 102.3,581.3 106.9,586.5 110.3,586.3 114.9,583.3 118.9,584.5 123.8,584.5 126.4,586.5 130.8,575.3 134.2,576.3 138.8,567.5 146.8,574.5 153.8,574.3 158.4,570.3 162.2,578.3 166.8,576.3 172.2,577.5 174.8,578.9 178.8,587.5 186.2,575.5 191.8,575.5 198.8,581.3 202.2,582.3 206.7,578.3 210.7,579.5 215.7,579.5 218.7,581.3 222.7,586.5 230.7,585.5 234.7,580.3 237.7,579.3 242.7,581.9 246.7,582.3 250.7,586.9 258.7,591.3 262.7,591.3 270.7,595.5 274.7,594.3 279.3,586.9 283.7,588.9 287.7,590.5 290.0,590.3 294.6,581.3 298.6,585.5 302.6,584.9 306.6,583.3 309.6,583.9 315.6,590.5 322.0,596.5 327.6,590.9 330.0,589.9 334.4,585.9 338.4,577.5 342.4,581.3 346.4,571.9 350.4,567.9 355.0,567.5 359.0,569.9 363.0,572.3 366.4,569.9 371.0,578.3 374.3,583.5 378.9,580.3 382.3,581.3 386.9,585.9 390.9,581.3 394.3,582.3 398.3,579.5 402.3,587.5 406.9,585.5 410.3,573.5 413.9,574.3 418.9,578.5 421.9,577.3 426.9,580.5 430.3,579.5 434.9,582.3 442.9,586.3 446.3,579.5 454.2,579.5 458.2,571.5 462.8,570.9 466.8,566.3 470.2,567.9 474.8,573.5 482.8,573.5 486.2,575.9 490.2,580.9 494.2,585.9 498.8,588.5 502.2,588.5 506.2,578.5 510.2,581.5 514.2,577.5 518.2,580.3 522.2,578.3 526.2,579.9 530.8,583.5 534.8,586.5 538.7,585.5 542.1,579.5 546.1,582.3 550.1,583.5 554.7,575.5 559.7,575.5 566.7,578.5 570.7,577.5 574.7,577.5 578.1,574.5 582.7,578.5 586.7,579.5 590.7,581.9 594.7,584.9 598.7,586.3 602.7,583.5 606.7,583.3 611.3,581.3 614.7,576.3 622.6,576.3 626.6,578.3 630.0,579.3 634.6,583.5 638.6,580.5 642.6,580.3 646.6,578.5 650.6,572.9 654.0,570.3 657.6,571.9 660.0,574.9 662.4,578.3 666.4,578.5 670.4,570.3 674.4,574.3 678.4,579.3 682.4,581.3 686.4,579.3 690.4,578.5 694.4,587.9 698.4,590.5 702.3,584.9 706.3,579.5 710.3,581.3 714.3,578.3 718.3,575.5 722.3,579.5 726.3,577.3 730.3,574.9 734.3,571.5 738.3,571.3 742.3,567.5 746.3,571.9 750.3,576.3 754.3,574.3 758.3,567.5 762.3,566.3 766.3,568.3 770.3,573.5 774.3,567.5 778.3,571.3 782.3,578.5 786.2,575.5 790.2,569.5 794.2,572.3 798.2,572.3 802.2,569.5 806.8,572.5 810.2,572.5 814.2,576.3 818.8,580.5 822.2,578.5 826.2,580.3 830.2,578.5 834.2,579.3 838.8,582.3 850.2,564.3 854.8,567.5 858.8,566.3 862.2,563.5 866.7,566.3 870.7,568.3 874.7,566.3 879.3,562.0 882.7,561.6 886.7,566.3 890.7,564.3 894.7,566.3 898.7,564.9 902.7,555.4 906.7,557.6 910.7,551.0 914.1,558.4 917.7,560.0 922.7,567.3 926.7,564.3 930.7,565.3 934.7,564.5 938.7,564.3 942.1,562.4 946.7,564.3 950.6,562.4 954.6,563.0 958.6,565.3 962.6,562.4 966.6,559.6 970.6,553.6 974.6,556.4 978.0,557.6 982.0,550.6 986.6,550.6 990.0,554.4 994.4,552.4 998.4,553.6 1002.4,553.6 1006.4,560.4 1011.0,565.3 1015.0,563.9 1019.0,560.4 1023.0,561.4 1026.4,561.6 1030.4,563.9 1034.3,566.3 1038.3,572.3 1044.3,572.5 1046.9,573.5 1050.3,572.5 1054.3,577.3 1058.3,579.9 1062.9,583.5 1066.3,582.3 1072.3,582.3 1076.3,584.5 1078.9,586.3 1082.3,584.3 1086.3,586.3 1090.3,588.3 1094.3,586.3 1098.3,584.5 1102.3,584.3 1106.3,575.5 1109.9,575.9 1114.2,581.5 1118.2,593.5 1122.2,592.3 1126.2,593.5 1130.2,585.5 1134.8,573.5 1138.8,575.5 1142.8,577.3 1146.2,578.5 1150.2,576.3 1154.8,580.5 1158.8,578.9 1162.2,577.5 1166.8,574.3 1170.2,575.9 1174.2,580.5 1178.2,582.9 1182.2,586.9 1186.2,589.3 1190.2,590.3 1194.2,591.5 1198.7,585.9 1202.7,581.3 1206.1,582.5 1210.1,574.5 1214.7,577.5 1218.7,576.3 1222.7,576.3 1226.7,572.5 1230.7,576.3 1234.7,575.3 1238.7,571.3 1242.7,573.3 1246.7,568.3 1250.1,567.3 1254.7,572.5 1258.7,555.6 1262.7,555.4 1266.7,556.6 1270.7,552.4 1274.7,550.4" fill="none" stroke="#1e90ff" stroke-width="1" shape-rendering="crispEdges"/>
<text x="1613.5" y="533" font-size="9.8" fill="#000" stroke="#000" stroke-width="0.25" textLength="15" lengthAdjust="spacingAndGlyphs">100</text>
<text x="1613.5" y="554" font-size="9.8" fill="#000" stroke="#000" stroke-width="0.25" textLength="10" lengthAdjust="spacingAndGlyphs">70</text>
<text x="1613.5" y="590" font-size="9.8" fill="#000" stroke="#000" stroke-width="0.25" textLength="10" lengthAdjust="spacingAndGlyphs">30</text>
<text x="1613.5" y="610" font-size="9.8" fill="#000" stroke="#000" stroke-width="0.25" textLength="5" lengthAdjust="spacingAndGlyphs">0</text>
<text x="6" y="628" font-size="9.8" fill="#000" stroke="#000" stroke-width="0.25" textLength="147" lengthAdjust="spacingAndGlyphs">MACD(12,26,9) 0.015652 0.001507</text>
<path d="M2.5 651V664M6.5 651V665M10.5 651V665M14.5 651V665M18.5 651V665M22.5 651V665M26.5 651V665M30.5 651V665M34.5 651V664M38.5 651V664M42.5 651V663M46.5 651V661M50.5 651V660M54.5 651V659M58.5 651V660M62.5 651V661M66.5 651V662M70.5 651V663M74.5 651V666M78.5 651V670M82.5 651V674M86.5 651V678M90.5 651V679M94.5 651V679M98.5 651V680M102.5 651V681M106.5 651V682M110.5 651V683M114.5 651V683M118.5 651V683M122.5 651V683M126.5 651V682M130.5 651V681M134.5 651V678M138.5 651V673M142.5 651V670M146.5 651V669M150.5 651V668M154.5 651V667M158.5 651V665M162.5 651V665M166.5 651V665M170.5 651V666M174.5 651V668M178.5 651V673M182.5 651V675M186.5 651V674M190.5 651V674M194.5 651V674M198.5 651V675M202.5 651V677M206.5 651V677M210.5 651V677M214.5 651V678M218.5 651V679M222.5 651V680M226.5 651V681M230.5 651V683M234.5 651V682M238.5 651V682M242.5 651V681M246.5 651V681M250.5 651V683M254.5 651V684M258.5 651V687M262.5 651V689M266.5 651V691M270.5 651V694M274.5 651V696M278.5 651V696M282.5 651V695M286.5 651V695M290.5 651V693M294.5 651V693M298.5 651V693M302.5 651V691M306.5 651V689M310.5 651V688M314.5 651V690M318.5 651V692M322.5 651V698M326.5 651V700M330.5 651V700M334.5 651V700M338.5 651V696M342.5 651V694M346.5 651V689M350.5 651V682M354.5 651V677M358.5 651V673M362.5 651V671M366.5 651V669M370.5 651V670M374.5 651V673M378.5 651V676M382.5 651V681M386.5 651V685M390.5 651V687M394.5 651V689M398.5 651V690M402.5 651V694M406.5 651V697M410.5 651V692M414.5 651V691M418.5 651V692M422.5 651V693M426.5 651V693M430.5 651V693M434.5 651V694M438.5 651V696M442.5 651V699M446.5 651V699M450.5 651V698M454.5 651V695M458.5 651V691M462.5 651V686M466.5 651V680M470.5 651V675M474.5 651V674M478.5 651V672M482.5 651V672M486.5 651V674M490.5 651V677M494.5 651V682M498.5 651V688M502.5 651V694M506.5 651V694M510.5 651V694M514.5 651V693M518.5 651V693M522.5 651V693M526.5 651V694M530.5 651V696M534.5 651V698M538.5 651V700M542.5 651V699M546.5 651V699M550.5 651V700M554.5 651V696M558.5 651V692M562.5 651V690M566.5 651V689M570.5 651V687M574.5 651V685M578.5 651V683M582.5 651V682M586.5 651V682M590.5 651V685M594.5 651V687M598.5 651V689M602.5 651V690M606.5 651V690M610.5 651V688M614.5 651V685M618.5 651V683M622.5 651V681M626.5 651V679M630.5 651V679M634.5 651V679M638.5 651V678M642.5 651V677M646.5 651V676M650.5 651V673M654.5 651V670M658.5 651V669M662.5 651V669M666.5 651V669M670.5 651V667M674.5 651V666M678.5 651V667M682.5 651V668M686.5 651V669M690.5 651V670M694.5 651V675M698.5 651V680M702.5 651V682M706.5 651V682M710.5 651V682M714.5 651V682M718.5 651V680M722.5 651V679M726.5 651V678M730.5 651V677M734.5 651V674M738.5 651V671M742.5 651V667M746.5 651V666M750.5 651V667M754.5 651V667M758.5 651V664M762.5 651V661M766.5 651V659M770.5 651V659M774.5 651V657M778.5 651V658M782.5 651V661M786.5 651V663M790.5 651V662M794.5 651V661M798.5 651V661M802.5 651V661M806.5 651V661M810.5 651V662M814.5 651V663M818.5 651V666M822.5 651V668M826.5 651V671M830.5 651V672M834.5 651V673M838.5 651V675M842.5 651V674M846.5 651V671M850.5 651V666M854.5 651V663M858.5 651V660M862.5 651V656M866.5 651V654M870.5 651V653M874.5 651V653M878.5 651V652M882.5 648V652M886.5 648V652M890.5 646V652M894.5 646V652M898.5 646V652M902.5 641V652M906.5 637V652M910.5 631V652M914.5 629V652M918.5 629V652M922.5 632V652M926.5 633V652M930.5 634V652M934.5 635V652M938.5 636V652M942.5 636V652M946.5 637V652M950.5 637V652M954.5 638V652M958.5 639V652M962.5 638V652M966.5 636V652M970.5 634V652M974.5 632V652M978.5 631V652M982.5 627V652M986.5 625V652M990.5 624V652M994.5 623V652M998.5 622V652M1002.5 623V652M1006.5 624V652M1010.5 627V652M1014.5 629V652M1018.5 630V652M1022.5 631V652M1026.5 632V652M1030.5 634V652M1034.5 636V652M1038.5 640V652M1042.5 643V652M1046.5 646V652M1050.5 648V652M1054.5 651V652M1058.5 651V654M1062.5 651V658M1066.5 651V661M1070.5 651V663M1074.5 651V665M1078.5 651V668M1082.5 651V669M1086.5 651V670M1090.5 651V672M1094.5 651V673M1098.5 651V673M1102.5 651V673M1106.5 651V671M1110.5 651V670M1114.5 651V670M1118.5 651V673M1122.5 651V679M1126.5 651V683M1130.5 651V683M1134.5 651V680M1138.5 651V678M1142.5 651V677M1146.5 651V676M1150.5 651V675M1154.5 651V675M1158.5 651V675M1162.5 651V674M1166.5 651V673M1170.5 651V671M1174.5 651V672M1178.5 651V674M1182.5 651V677M1186.5 651V680M1190.5 651V683M1194.5 651V686M1198.5 651V687M1202.5 651V686M1206.5 651V685M1210.5 651V683M1214.5 651V680M1218.5 651V678M1222.5 651V676M1226.5 651V673M1230.5 651V672M1234.5 651V671M1238.5 651V669M1242.5 651V667M1246.5 651V664M1250.5 651V662M1254.5 651V661M1258.5 651V654M1262.5 649V652M1266.5 645V652M1270.5 640V652M1274.5 635V652M1278.5 631V652" stroke="#c0c0c0" stroke-width="1" fill="none" shape-rendering="crispEdges"/>
<polyline points="2.4,663.5 10.0,666.9 20.0,667.5 30.0,666.9 40.0,665.9 49.9,664.3 61.9,662.9 69.9,661.3 75.9,661.5 81.9,663.5 87.9,666.9 93.9,669.9 99.9,673.3 105.9,677.3 111.9,679.9 119.9,682.3 127.8,682.9 135.8,682.3 143.8,679.3 151.8,675.3 159.8,671.9 167.8,668.9 173.8,667.3 179.8,668.9 187.8,669.9 195.8,671.5 203.8,673.9 211.7,675.5 219.7,676.9 227.7,678.3 235.7,679.3 243.7,680.3 251.7,681.3 259.7,682.3 267.7,684.9 275.7,687.9 283.7,691.3 291.6,693.5 299.6,694.5 307.6,692.9 315.6,691.9 323.6,692.3 332.0,693.9 338.0,695.3 346.0,695.3 354.0,692.9 362.0,686.9 370.0,680.5 377.9,676.3 383.9,675.3 389.9,676.5 397.9,680.5 405.9,685.3 413.9,689.9 421.9,691.5 429.9,692.3 437.9,692.5 445.9,693.5 453.8,695.3 461.8,694.3 469.8,691.9 477.8,686.9 485.8,680.5 491.8,676.9 497.8,676.5 505.8,679.9 513.8,684.9 521.8,689.9 529.8,692.9 537.7,695.3 545.7,695.5 553.7,697.3 561.7,697.3 569.7,694.9 577.7,691.3 585.7,687.9 593.7,685.9 601.7,685.3 609.7,686.3 617.7,686.3 625.6,686.3 633.6,684.3 641.6,681.3 649.6,678.9 657.6,676.3 662.0,675.3 670.0,672.5 680.0,669.3 690.0,668.5 698.0,670.5 705.9,673.5 713.9,676.9 721.9,679.3 729.9,680.5 737.9,678.5 745.9,675.3 753.9,672.3 761.9,668.5 769.9,664.5 777.9,662.3 785.8,661.3 793.8,660.5 801.8,660.5 809.8,661.5 817.8,662.5 825.8,664.5 833.8,666.3 841.8,668.9 849.8,671.3 855.8,669.3 861.8,668.3 867.7,665.9 873.7,662.3 879.7,657.9 885.7,654.6 891.7,651.4 897.7,649.4 903.7,646.6 909.7,644.0 915.7,640.0 921.7,637.4 927.7,635.0 933.7,633.4 939.7,632.6 945.7,633.6 951.6,634.4 957.6,635.0 963.6,636.4 969.6,636.4 975.6,635.6 981.6,634.4 987.6,633.0 992.0,630.4 998.0,627.4 1006.0,624.6 1014.0,624.4 1022.0,625.0 1030.0,626.6 1037.9,629.4 1045.9,635.0 1053.9,639.0 1061.9,644.6 1069.9,651.6 1077.9,656.9 1085.9,661.3 1093.9,666.5 1101.9,669.5 1109.9,670.5 1117.8,672.3 1125.8,674.5 1133.8,675.9 1141.8,677.3 1149.8,678.5 1157.8,678.3 1165.8,676.9 1171.8,674.5 1179.8,674.3 1187.8,675.9 1195.8,677.9 1203.7,680.3 1209.7,682.3 1215.7,683.3 1221.7,682.5 1227.7,680.9 1233.7,678.5 1239.7,675.5 1245.7,672.9 1251.7,669.9 1257.7,666.9 1263.7,662.3 1269.7,657.9 1276.7,651.6" fill="none" stroke="#ff0000" stroke-width="1" stroke-dasharray="3 3" shape-rendering="crispEdges"/>
<g shape-rendering="crispEdges">
<rect x="1611" y="617" width="2" height="1" fill="#000"/>
<rect x="1611" y="704" width="2" height="1" fill="#000"/>
</g>
<text x="1613.5" y="626" font-size="9.8" fill="#000" stroke="#000" stroke-width="0.25" textLength="38" lengthAdjust="spacingAndGlyphs">0.025623</text>
<text x="1613.5" y="655" font-size="9.8" fill="#000" stroke="#000" stroke-width="0.25" textLength="18" lengthAdjust="spacingAndGlyphs">0.00</text>
<text x="1612.5" y="703" font-size="9.8" fill="#000" stroke="#000" stroke-width="0.25" textLength="41" lengthAdjust="spacingAndGlyphs">-0.040687</text>
<g shape-rendering="crispEdges">
<rect x="2" y="706" width="1" height="3" fill="#000"/>
<rect x="66" y="706" width="1" height="3" fill="#000"/>
<rect x="130" y="706" width="1" height="3" fill="#000"/>
<rect x="194" y="706" width="1" height="3" fill="#000"/>
<rect x="258" y="706" width="1" height="3" fill="#000"/>
<rect x="322" y="706" width="1" height="3" fill="#000"/>
<rect x="386" y="706" width="1" height="3" fill="#000"/>
<rect x="450" y="706" width="1" height="3" fill="#000"/>
<rect x="514" y="706" width="1" height="3" fill="#000"/>
<rect x="578" y="706" width="1" height="3" fill="#000"/>
<rect x="642" y="706" width="1" height="3" fill="#000"/>
<rect x="706" y="706" width="1" height="3" fill="#000"/>
<rect x="770" y="706" width="1" height="3" fill="#000"/>
<rect x="834" y="706" width="1" height="3" fill="#000"/>
<rect x="898" y="706" width="1" height="3" fill="#000"/>
<rect x="962" y="706" width="1" height="3" fill="#000"/>
<rect x="1026" y="706" width="1" height="3" fill="#000"/>
<rect x="1090" y="706" width="1" height="3" fill="#000"/>
<rect x="1154" y="706" width="1" height="3" fill="#000"/>
<rect x="1218" y="706" width="1" height="3" fill="#000"/>
</g>
<text x="1.5" y="718" font-size="9.8" fill="#000" stroke="#000" stroke-width="0.25" textLength="51" lengthAdjust="spacingAndGlyphs">15 Jun 2020</text>
<text x="65.5" y="718" font-size="9.8" fill="#000" stroke="#000" stroke-width="0.25" textLength="43" lengthAdjust="spacingAndGlyphs">3 Jul 2020</text>
<text x="129.5" y="718" font-size="9.8" fill="#000" stroke="#000" stroke-width="0.25" textLength="48" lengthAdjust="spacingAndGlyphs">22 Jul 2020</text>
<text x="193.5" y="718" font-size="9.8" fill="#000" stroke="#000" stroke-width="0.25" textLength="52" lengthAdjust="spacingAndGlyphs">10 Aug 2020</text>
<text x="257.5" y="718" font-size="9.8" fill="#000" stroke="#000" stroke-width="0.25" textLength="52" lengthAdjust="spacingAndGlyphs">28 Aug 2020</text>
<text x="321.5" y="718" font-size="9.8" fill="#000" stroke="#000" stroke-width="0.25" textLength="52" lengthAdjust="spacingAndGlyphs">16 Sep 2020</text>
<text x="385.5" y="718" font-size="9.8" fill="#000" stroke="#000" stroke-width="0.25" textLength="46" lengthAdjust="spacingAndGlyphs">5 Oct 2020</text>
<text x="449.5" y="718" font-size="9.8" fill="#000" stroke="#000" stroke-width="0.25" textLength="51" lengthAdjust="spacingAndGlyphs">23 Oct 2020</text>
<text x="513.5" y="718" font-size="9.8" fill="#000" stroke="#000" stroke-width="0.25" textLength="53" lengthAdjust="spacingAndGlyphs">11 Nov 2020</text>
<text x="577.5" y="718" font-size="9.8" fill="#000" stroke="#000" stroke-width="0.25" textLength="53" lengthAdjust="spacingAndGlyphs">30 Nov 2020</text>
<text x="641.5" y="718" font-size="9.8" fill="#000" stroke="#000" stroke-width="0.25" textLength="53" lengthAdjust="spacingAndGlyphs">18 Dec 2020</text>
<text x="705.5" y="718" font-size="9.8" fill="#000" stroke="#000" stroke-width="0.25" textLength="46" lengthAdjust="spacingAndGlyphs">7 Jan 2021</text>
<text x="769.5" y="718" font-size="9.8" fill="#000" stroke="#000" stroke-width="0.25" textLength="51" lengthAdjust="spacingAndGlyphs">26 Jan 2021</text>
<text x="833.5" y="718" font-size="9.8" fill="#000" stroke="#000" stroke-width="0.25" textLength="52" lengthAdjust="spacingAndGlyphs">13 Feb 2021</text>
<text x="897.5" y="718" font-size="9.8" fill="#000" stroke="#000" stroke-width="0.25" textLength="47" lengthAdjust="spacingAndGlyphs">4 Mar 2021</text>
<text x="961.5" y="718" font-size="9.8" fill="#000" stroke="#000" stroke-width="0.25" textLength="52" lengthAdjust="spacingAndGlyphs">23 Mar 2021</text>
<text x="1025.5" y="718" font-size="9.8" fill="#000" stroke="#000" stroke-width="0.25" textLength="50" lengthAdjust="spacingAndGlyphs">10 Apr 2021</text>
<text x="1089.5" y="718" font-size="9.8" fill="#000" stroke="#000" stroke-width="0.25" textLength="50" lengthAdjust="spacingAndGlyphs">29 Apr 2021</text>
<text x="1153.5" y="718" font-size="9.8" fill="#000" stroke="#000" stroke-width="0.25" textLength="54" lengthAdjust="spacingAndGlyphs">18 May 2021</text>
<text x="1217.5" y="718" font-size="9.8" fill="#000" stroke="#000" stroke-width="0.25" textLength="46" lengthAdjust="spacingAndGlyphs">5 Jun 2021</text>
<text x="13.0" y="742.8" font-size="11.9" fill="#808080" text-anchor="start" font-weight="normal" textLength="67.7" lengthAdjust="spacingAndGlyphs">USDCHF,H4</text>
<text x="100.8" y="742.8" font-size="11.9" fill="#000" text-anchor="start" font-weight="normal" textLength="84.0" lengthAdjust="spacingAndGlyphs">USDCNH,Daily</text>
<text x="206.5" y="742.8" font-size="11.9" fill="#808080" text-anchor="start" font-weight="normal" textLength="69.0" lengthAdjust="spacingAndGlyphs">EURUSD,H4</text>
<text x="298.2" y="742.8" font-size="11.9" fill="#808080" text-anchor="start" font-weight="normal" textLength="70.6" lengthAdjust="spacingAndGlyphs">AUDUSD,H4</text>
<text x="389.3" y="742.8" font-size="11.9" fill="#808080" text-anchor="start" font-weight="normal" textLength="70.4" lengthAdjust="spacingAndGlyphs">USDCAD,H4</text>
<text x="481.3" y="742.8" font-size="11.9" fill="#808080" text-anchor="start" font-weight="normal" textLength="69.8" lengthAdjust="spacingAndGlyphs">XAUUSD,H1</text>
<text x="572.4" y="742.8" font-size="11.9" fill="#808080" text-anchor="start" font-weight="normal" textLength="51.4" lengthAdjust="spacingAndGlyphs">USOil,H1</text>
</svg>

<!-- one click trading -->
<div id="lotbg" class="abs"></div>
<div id="sell" class="abs"><div class="dline" style="left:4px;width:44px"></div><span class="btxt" style="left:12px;top:5.8px;transform:scaleX(0.915)">SELL</span></div>
<div id="buy" class="abs"><div class="dline" style="left:4px;width:44px"></div><span class="btxt" style="left:12.8px;top:5.8px;transform:scaleX(0.98)">BUY</span></div>
<div id="bid" class="abs">
  <div class="uline" style="left:4px;top:0;width:44px"></div>
  <span class="small" style="left:19.8px;top:17.8px">6.48</span>
  <svg class="bigsvg" width="109" height="33" viewBox="0 0 109 33"><defs><linearGradient id="pg1" gradientUnits="userSpaceOnUse" x1="0" y1="0" x2="0" y2="33"><stop offset="0" stop-color="#3a3ae8"/><stop offset="0.35" stop-color="#1c1cd0"/><stop offset="1" stop-color="#0000b0"/></linearGradient></defs><text x="46.3" y="28" font-size="34" fill="#fff" stroke="url(#pg1)" stroke-width="0.9" letter-spacing="-0.6">76</text></svg>
  <span class="small" style="left:86.5px;top:1.8px">6</span>
</div>
<div id="ask" class="abs">
  <div class="uline" style="left:60px;top:0;width:44px"></div>
  <span class="small" style="left:19.4px;top:17.8px">6.48</span>
  <svg class="bigsvg" width="108" height="33" viewBox="0 0 108 33"><text x="46.7" y="28" font-size="34" fill="#fff" stroke="url(#pg1)" stroke-width="0.9" letter-spacing="-0.6">96</text></svg>
  <span class="small" style="left:86.5px;top:1.8px">6</span>
</div>
<div id="lot" class="abs">
  <div class="spin" style="left:0;border-right:1px solid #a8a8a8"><svg width="19" height="20" style="position:absolute;left:0;top:0"><path d="M7 8h5.4l-2.7 3z" fill="#4a66c4"/></svg></div>
  <span id="lotval">2.00</span>
  <div class="spin" style="right:0;border-left:1px solid #a8a8a8"><svg width="19" height="20" style="position:absolute;left:1px;top:0"><path d="M7 11h5.4l-2.7-3z" fill="#4a66c4"/></svg></div>
</div>

<svg class="abs" style="left:1620px;top:730px" width="32" height="16"><path d="M9.5 3.5v7l-4-3.5z M24 3.5v7l4-3.5z" fill="#a0a0a0"/></svg>
</body>
</html>
